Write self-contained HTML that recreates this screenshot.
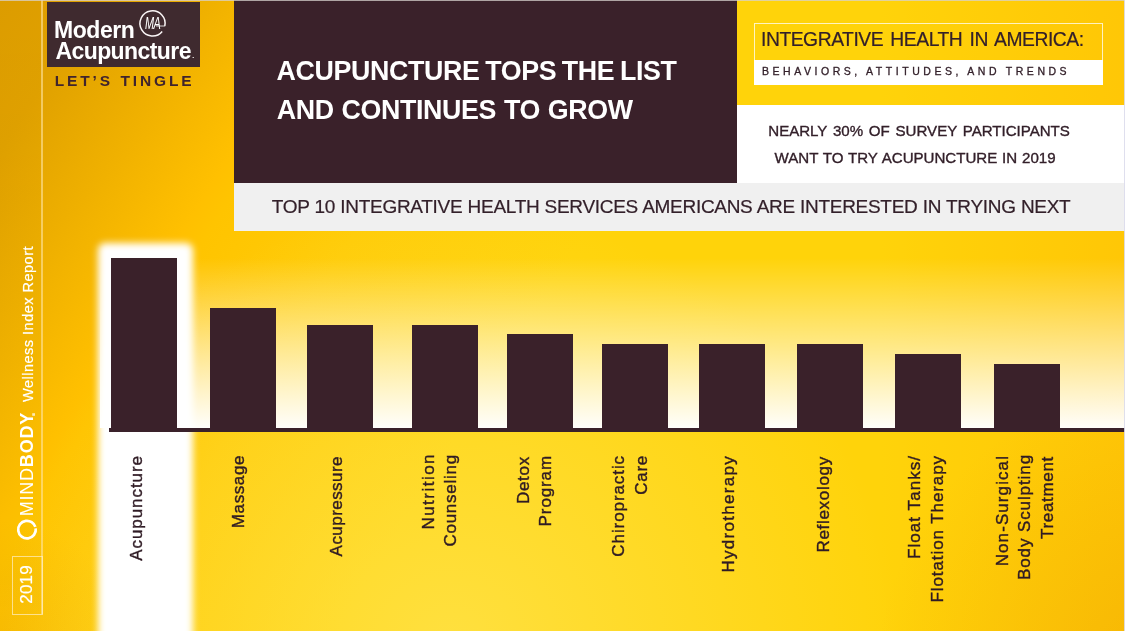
<!DOCTYPE html>
<html lang="en">
<head>
<meta charset="utf-8">
<title>Acupuncture Tops the List</title>
<style>
html,body{margin:0;padding:0;}
body{width:1125px;height:631px;overflow:hidden;background:#fcc400;font-family:"Liberation Sans",sans-serif;}
#page{position:relative;width:1125px;height:631px;overflow:hidden;
  background:
    radial-gradient(circle 450px at 450px 650px, rgba(255,240,128,.45) 0%, rgba(255,240,128,0) 100%),
    radial-gradient(circle 300px at 1175px 681px, rgba(230,150,0,.35) 0%, rgba(230,150,0,0) 100%),
    linear-gradient(90deg, rgba(255,184,0,0) 880px, rgba(255,184,0,.45) 1125px),
    radial-gradient(circle 130px at 0px 650px, rgba(200,120,0,.16) 0%, rgba(200,120,0,0) 100%),
    linear-gradient(122deg, #dc9c00 0px, #e0a100 80px, #ffc000 277px, #ffc400 300px, #ffcc08 424px, #ffd30a 620px);
}
.abs{position:absolute;}
.dark{background:#3a212a;}
.t{position:absolute;white-space:nowrap;line-height:1;color:#3a212a;}
.v{position:absolute;white-space:nowrap;line-height:1;transform-origin:100% 0;transform:rotate(-90deg);}
.lab{-webkit-text-stroke:.4px #2f1b24;}
/* left strip */
#strip{left:0;top:0;width:41.5px;height:614px;background:linear-gradient(180deg,rgba(0,0,0,0) 0,rgba(0,0,0,.012) 200px,rgba(0,0,0,.012) 580px,rgba(0,0,0,0) 614px);}
#vline{left:41.3px;top:0;width:1.5px;height:614px;background:rgba(255,228,160,.6);}
#ybox{left:12.3px;top:556px;width:29px;height:57px;border:1px solid rgba(255,240,200,.7);box-sizing:content-box;}
/* chart */
#chartbg{left:100px;top:231px;width:1025px;height:197px;background:linear-gradient(180deg,rgba(255,255,255,0) 0,rgba(255,255,255,0) 27px,rgba(255,255,255,.98) 197px);}
#lower{display:none;}
#glow{left:97.5px;top:242.5px;width:95px;height:410px;background:#fff;border-radius:7px;filter:blur(3.6px);}
#base{left:109px;top:428px;width:1016px;height:4px;}
.bar{position:absolute;width:66px;background:#3a212a;}
</style>
</head>
<body>
<div id="page">
  <div class="abs" id="strip"></div>
  <div class="abs" id="lower"></div>
  <div class="abs" id="chartbg"></div>
  <div class="abs" id="vline"></div>
  <div class="abs" id="ybox"></div>

  <!-- logo -->
  <div class="abs dark" style="left:47px;top:2px;width:153px;height:64.5px;background:#3f2a2f"></div>
  <div class="t" id="l1" style="left:54.07px;top:19.00px;font-size:23px;font-weight:bold;color:#fff;letter-spacing:-0.460px;">Modern</div>
  <div class="t" id="l2" style="left:55.44px;top:40.00px;font-size:23px;font-weight:bold;color:#fff;letter-spacing:-0.580px;">Acupuncture</div>
  <div class="t" style="left:192.3px;top:52px;font-size:7px;font-weight:bold;color:#fff;">.</div>
  <svg class="abs" style="left:130px;top:4px" width="46" height="36" viewBox="130 4 46 36">
    <path d="M162.2 31.4 A12.55 12.55 0 1 1 164.8 26" fill="none" stroke="#fbf6f7" stroke-width="1.5"/>
    <line x1="156" y1="26" x2="165" y2="26" stroke="#fff" stroke-width=".8"/>
  </svg>
  <div class="t" id="mono" style="left:145px;top:15px;font-size:16.5px;font-style:italic;letter-spacing:-1px;color:#fff;transform-origin:0 0;transform:scaleX(.66);">MA</div>
  <div class="t" id="l3" style="left:54.63px;top:73.00px;font-size:15.5px;font-weight:bold;color:#40242d;letter-spacing:2.887px;word-spacing:0.240px;">LET’S TINGLE</div>

  <!-- title block -->
  <div class="abs dark" style="left:234px;top:0;width:503.1px;height:182.5px;"></div>
  <div class="t" id="h1" style="left:276.54px;top:57.65px;font-size:26.8px;font-weight:bold;color:#fff;letter-spacing:-0.357px;word-spacing:-1.490px;">ACUPUNCTURE TOPS THE LIST</div>
  <div class="t" id="h2" style="left:276.67px;top:96.85px;font-size:26.8px;font-weight:bold;color:#fff;letter-spacing:-0.357px;word-spacing:0.750px;">AND CONTINUES TO GROW</div>

  <!-- right blocks -->
  
  <div class="abs" style="left:754px;top:23px;width:349px;height:62px;border:1px solid rgba(255,255,255,.75);box-sizing:border-box;"></div>
  <div class="abs" style="left:754px;top:60px;width:349px;height:25px;background:#fff;"></div>
  <div class="t" id="r1" style="left:761.02px;top:30.00px;font-size:19.3px;font-weight:normal;color:#33202a;letter-spacing:-0.454px;-webkit-text-stroke:.2px #33202a;word-spacing:2.308px;">INTEGRATIVE HEALTH IN AMERICA:</div>
  <div class="t" id="r2" style="left:762.01px;top:66.20px;font-size:10.5px;font-weight:normal;color:#33202a;letter-spacing:3.536px;-webkit-text-stroke:.3px #33202a;word-spacing:-0.539px;">BEHAVIORS, ATTITUDES, AND TRENDS</div>
  <div class="abs" style="left:737.1px;top:104.5px;width:388px;height:78px;background:#fff;"></div>
  <div class="t" id="r3" style="left:768.28px;top:123.00px;font-size:15.1px;font-weight:normal;color:#33202a;letter-spacing:-0.023px;-webkit-text-stroke:.35px #33202a;word-spacing:1.623px;">NEARLY 30% OF SURVEY PARTICIPANTS</div>
  <div class="t" id="r4" style="left:774.58px;top:150.00px;font-size:15.1px;font-weight:normal;color:#33202a;letter-spacing:-0.023px;-webkit-text-stroke:.35px #33202a;word-spacing:0.759px;">WANT TO TRY ACUPUNCTURE IN 2019</div>

  <!-- grey bar -->
  <div class="abs" style="left:234px;top:182.5px;width:891px;height:48.3px;background:#f0f0f0;"></div>
  <div class="t" id="g1" style="left:271.85px;top:197.00px;font-size:19px;font-weight:normal;color:#33202a;letter-spacing:-0.293px;-webkit-text-stroke:.2px #33202a;word-spacing:0.233px;">TOP 10 INTEGRATIVE HEALTH SERVICES AMERICANS ARE INTERESTED IN TRYING NEXT</div>

  <!-- chart -->
  <div class="abs" id="glow"></div>
  <div class="abs dark" id="base"></div>
  <div class="bar" style="left:111px;top:258px;height:172px;"></div>
  <div class="bar" style="left:209.7px;top:307.6px;height:122px;"></div>
  <div class="bar" style="left:307.4px;top:324.7px;height:105px;"></div>
  <div class="bar" style="left:412.1px;top:324.7px;height:105px;"></div>
  <div class="bar" style="left:506.6px;top:334.3px;height:96px;"></div>
  <div class="bar" style="left:601.5px;top:344px;height:86px;"></div>
  <div class="bar" style="left:699.4px;top:344px;height:86px;"></div>
  <div class="bar" style="left:797px;top:344px;height:86px;"></div>
  <div class="bar" style="left:894.5px;top:354px;height:76px;"></div>
  <div class="bar" style="left:993.9px;top:363.6px;height:67px;"></div>

  <div class="v lab" id="b1" style="right:996.83px;top:455.29px;font-size:17px;font-weight:normal;color:#2f1b24;letter-spacing:0.940px;">Acupuncture</div>
  <div class="v lab" id="b2" style="right:894.83px;top:454.99px;font-size:17px;font-weight:normal;color:#2f1b24;letter-spacing:0.600px;">Massage</div>
  <div class="v lab" id="b3" style="right:796.33px;top:455.53px;font-size:17px;font-weight:normal;color:#2f1b24;letter-spacing:0.450px;">Acupressure</div>
  <div class="v lab" id="b4a" style="right:705.58px;top:453.34px;font-size:17px;font-weight:normal;color:#2f1b24;letter-spacing:1.475px;">Nutrition</div>
  <div class="v lab" id="b4b" style="right:683.33px;top:454.22px;font-size:17px;font-weight:normal;color:#2f1b24;letter-spacing:0.750px;">Counseling</div>
  <div class="v lab" id="b5a" style="right:609.83px;top:455.92px;font-size:17px;font-weight:normal;color:#2f1b24;letter-spacing:0.737px;">Detox</div>
  <div class="v lab" id="b5b" style="right:587.58px;top:454.75px;font-size:17px;font-weight:normal;color:#2f1b24;letter-spacing:0.883px;">Program</div>
  <div class="v lab" id="b6a" style="right:515.08px;top:454.76px;font-size:17px;font-weight:normal;color:#2f1b24;letter-spacing:0.914px;">Chiropractic</div>
  <div class="v lab" id="b6b" style="right:492.75px;top:455.03px;font-size:17px;font-weight:normal;color:#2f1b24;letter-spacing:0.700px;">Care</div>
  <div class="v lab" id="b7" style="right:405.83px;top:455.29px;font-size:17px;font-weight:normal;color:#2f1b24;letter-spacing:1.291px;">Hydrotherapy</div>
  <div class="v lab" id="b8" style="right:310.58px;top:455.78px;font-size:17px;font-weight:normal;color:#2f1b24;letter-spacing:0.705px;">Reflexology</div>
  <div class="v lab" id="b9a" style="right:219.08px;top:454.99px;font-size:17px;font-weight:normal;color:#2f1b24;letter-spacing:1.045px;">Float Tanks/</div>
  <div class="v lab" id="b9b" style="right:196.83px;top:455.10px;font-size:17px;font-weight:normal;color:#2f1b24;letter-spacing:0.912px;">Flotation Therapy</div>
  <div class="v lab" id="b10a" style="right:131.08px;top:454.78px;font-size:17px;font-weight:normal;color:#2f1b24;letter-spacing:1.086px;">Non-Surgical</div>
  <div class="v lab" id="b10b" style="right:108.83px;top:454.15px;font-size:17px;font-weight:normal;color:#2f1b24;letter-spacing:0.904px;">Body Sculpting</div>
  <div class="v lab" id="b10c" style="right:86.33px;top:455.72px;font-size:17px;font-weight:normal;color:#2f1b24;letter-spacing:0.687px;">Treatment</div>

  <!-- left strip text -->
  <svg class="abs" style="left:14px;top:516px" width="26" height="28" viewBox="14 516 26 28">
    <circle cx="27" cy="529.6" r="8.8" fill="none" stroke="#fff" stroke-width="2.7" stroke-dasharray="53.3 2" transform="rotate(-8 27 529.6)"/>
  </svg>
  <div class="v" id="dot" style="right:1104.6px;top:412.2px;font-size:18px;font-weight:bold;color:rgba(255,255,255,.7);">.</div>
  <div class="v" id="s1" style="right:1107.00px;top:411.81px;font-size:18px;font-weight:normal;color:#fff;letter-spacing:0.780px;">MIND<b>BODY</b></div>
  <div class="v" id="s2" style="right:1103.57px;top:245.75px;font-size:14.5px;font-weight:normal;color:#fff;letter-spacing:0.493px;-webkit-text-stroke:.2px #fff;">Wellness Index Report</div>
  <div class="v" id="s3" style="right:1107.56px;top:564.65px;font-size:17px;font-weight:normal;color:#fff;letter-spacing:0.233px;-webkit-text-stroke:.2px #fff;">2019</div>

  <div class="abs" style="left:0;top:0;width:1125px;height:1px;background:rgba(215,210,205,.75);"></div>
  <div class="abs" style="left:1124px;top:0;width:1px;height:631px;background:rgba(220,220,236,.9);"></div>
</div>
</body>
</html>
